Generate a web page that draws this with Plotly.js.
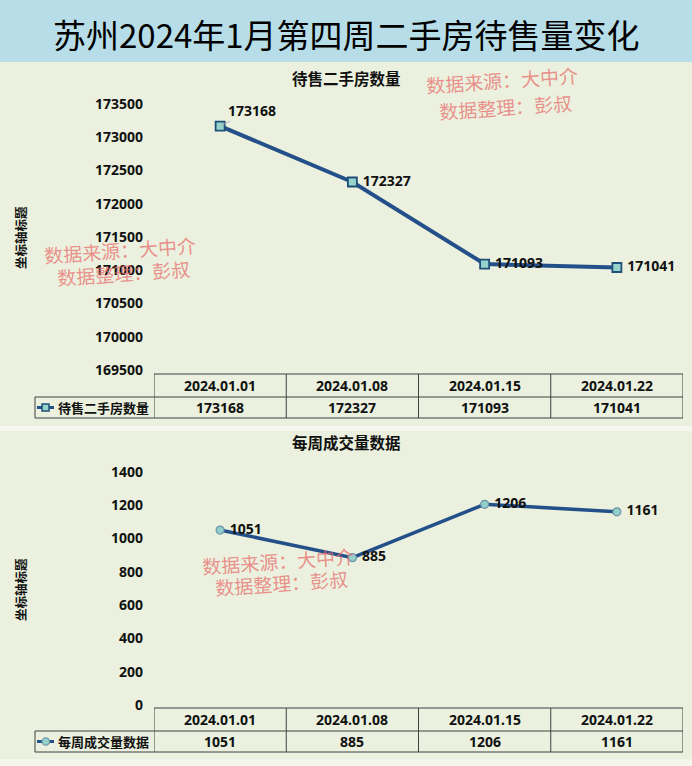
<!DOCTYPE html>
<html>
<head>
<meta charset="utf-8">
<script src="https://cdn.plot.ly/plotly-3.0.1.min.js"></script>
<style>
html,body{margin:0;padding:0;background:#EBF1DE;}
#chart{width:692px;height:766px;}
</style>
</head>
<body>
<div id="chart"></div>
<script>
// ---- data ----
const dates = ['2024.01.01', '2024.01.08', '2024.01.15', '2024.01.22'];
const listings = [173168, 172327, 171093, 171041];
const deals = [1051, 885, 1206, 1161];
const listingsName = '待售二手房数量';
const dealsName = '每周成交量数据';
const mainTitle = '苏州2024年1月第四周二手房待售量变化';
const axisTitle = '坐标轴标题';
const wmLine1 = '数据来源：大中介';
const wmLine2 = '数据整理：彭叔';

// ---- helpers (pixel -> paper) ----
const W = 692, H = 766;
const px = x => x / W;
const py = y => 1 - y / H;
const pad = '\u00a0';

const lineColor = '#24508A';
const tableLine = '#404040';
const numFont = {family: 'Noto Sans, Noto Sans CJK SC, sans-serif', size: 14, color: '#111', weight: 'bold'};
const cjkBold = (s) => ({family: 'Noto Sans CJK SC, sans-serif', size: s, color: '#111', weight: 'bold'});
const wmFont = {family: 'Noto Sans CJK SC, serif', size: 19, color: 'rgba(232,105,105,0.72)'};

const traces = [
  {
    x: dates, y: listings, xaxis: 'x', yaxis: 'y',
    type: 'scatter', mode: 'lines+markers+text',
    line: {color: lineColor, width: 4},
    marker: {symbol: 'square', size: 9, color: '#95D3CC', line: {color: '#1F4E79', width: 1.8}},
    text: listings.map((v, i) => i === 0 ? '' : pad + String(v)),
    textposition: 'middle right',
    textfont: numFont,
    cliponaxis: false, hoverinfo: 'skip'
  },
  {
    x: dates, y: deals, xaxis: 'x2', yaxis: 'y2',
    type: 'scatter', mode: 'lines+markers+text',
    line: {color: lineColor, width: 3.5},
    marker: {symbol: 'circle', size: 8, color: '#93CFCB', line: {color: '#6A95A6', width: 1.2}},
    text: deals.map(v => pad + String(v)),
    textposition: 'middle right',
    textfont: numFont,
    cliponaxis: false, hoverinfo: 'skip'
  }
];

const shapes = [];
const annotations = [];

// background bands
shapes.push({type: 'rect', xref: 'paper', yref: 'paper', x0: 0, x1: 1, y0: py(62), y1: 1,
  fillcolor: '#B7DEE8', line: {width: 0}, layer: 'below'});
shapes.push({type: 'rect', xref: 'paper', yref: 'paper', x0: 0, x1: 1, y0: py(431), y1: py(426),
  fillcolor: '#F6F8F0', line: {width: 0}, layer: 'below'});
shapes.push({type: 'rect', xref: 'paper', yref: 'paper', x0: 0, x1: 1, y0: 0, y1: py(759),
  fillcolor: '#F4F6EE', line: {width: 0}, layer: 'below'});

// titles
annotations.push({xref: 'paper', yref: 'paper', x: 0.5, y: py(34), text: mainTitle, showarrow: false,
  xanchor: 'center', yanchor: 'middle', font: {family: 'Noto Sans CJK SC, serif', size: 33, color: '#000'}});
annotations.push({xref: 'paper', yref: 'paper', x: px(346), y: py(78), text: listingsName, showarrow: false,
  xanchor: 'center', yanchor: 'middle', font: cjkBold(15.5)});
annotations.push({xref: 'paper', yref: 'paper', x: px(346), y: py(442), text: dealsName, showarrow: false,
  xanchor: 'center', yanchor: 'middle', font: cjkBold(15.5)});
// axis titles
[[238], [590]].forEach(([yy]) => {
  annotations.push({xref: 'paper', yref: 'paper', x: px(20), y: py(yy), text: axisTitle, showarrow: false,
    textangle: -90, xanchor: 'center', yanchor: 'middle', font: cjkBold(12.5)});
});

// first label with leader line
annotations.push({xref: 'x', yref: 'y', x: dates[0], y: listings[0], text: String(listings[0]),
  showarrow: true, arrowhead: 0, arrowwidth: 0.8, arrowcolor: '#A8A8A8', ax: 32, ay: -16,
  font: numFont});

// watermarks
const wm = [[502, 80, 106], [120, 250, 272], [278, 560, 582]];
wm.forEach(([cx, y1, y2]) => {
  annotations.push({xref: 'paper', yref: 'paper', x: px(cx), y: py(y1), text: wmLine1, showarrow: false,
    textangle: -4, xanchor: 'center', yanchor: 'middle', font: wmFont});
  annotations.push({xref: 'paper', yref: 'paper', x: px(cx + 3), y: py(y2), text: wmLine2, showarrow: false,
    textangle: -4, xanchor: 'center', yanchor: 'middle', font: wmFont});
});

// data tables
function table(xr, top, mid, bot, values, name, symbol) {
  const ln = {color: tableLine, width: 1};
  shapes.push({type: 'line', xref: xr, yref: 'paper', x0: -0.5, x1: 3.5, y0: py(top), y1: py(top), line: ln});
  shapes.push({type: 'line', xref: 'paper', yref: 'paper', x0: px(35), x1: px(683), y0: py(mid), y1: py(mid), line: ln});
  shapes.push({type: 'line', xref: 'paper', yref: 'paper', x0: px(35), x1: px(683), y0: py(bot), y1: py(bot), line: ln});
  shapes.push({type: 'line', xref: 'paper', yref: 'paper', x0: px(35), x1: px(35), y0: py(mid), y1: py(bot), line: ln});
  for (let i = 0; i <= dates.length; i++) {
    shapes.push({type: 'line', xref: xr, yref: 'paper', x0: i - 0.5, x1: i - 0.5, y0: py(top), y1: py(bot), line: ln});
  }
  dates.forEach((d, i) => {
    annotations.push({xref: xr, yref: 'paper', x: d, y: py((top + mid) / 2), text: d, showarrow: false,
      xanchor: 'center', yanchor: 'middle', font: numFont});
    annotations.push({xref: xr, yref: 'paper', x: d, y: py((mid + bot) / 2), text: String(values[i]), showarrow: false,
      xanchor: 'center', yanchor: 'middle', font: numFont});
  });
  const cy = (mid + bot) / 2;
  annotations.push({xref: 'paper', yref: 'paper', x: px(56), y: py(cy), text: name, showarrow: false,
    xanchor: 'left', yanchor: 'middle', font: cjkBold(13)});
  shapes.push({type: 'line', xref: 'paper', yref: 'paper', x0: px(37), x1: px(54), y0: py(cy), y1: py(cy),
    line: {color: lineColor, width: 3}});
  if (symbol === 'square') {
    shapes.push({type: 'rect', xref: 'paper', yref: 'paper', x0: px(42), x1: px(49), y0: py(cy + 3.5), y1: py(cy - 3.5),
      fillcolor: '#95D3CC', line: {color: '#1F4E79', width: 1.5}});
  } else {
    shapes.push({type: 'circle', xref: 'paper', yref: 'paper', x0: px(42), x1: px(49.5), y0: py(cy + 3.75), y1: py(cy - 3.75),
      fillcolor: '#93CFCB', line: {color: '#6A95A6', width: 1.2}});
  }
}
table('x', 374, 397, 418, listings, listingsName, 'square');
table('x2', 708, 731, 752, deals, dealsName, 'circle');

const xCommon = {
  domain: [px(154), px(683)], type: 'category', range: [-0.5, 3.5],
  showticklabels: false, showgrid: false, zeroline: false, showline: false, ticks: ''
};
const yCommon = {
  showgrid: false, zeroline: false, showline: false, ticks: '',
  tickfont: numFont, ticklabelstandoff: 10, tickformat: 'd'
};

const layout = {
  width: W, height: H,
  margin: {l: 0, r: 0, t: 0, b: 0},
  paper_bgcolor: '#EBF1DE', plot_bgcolor: 'rgba(0,0,0,0)',
  showlegend: false,
  xaxis: Object.assign({}, xCommon, {anchor: 'y'}),
  xaxis2: Object.assign({}, xCommon, {anchor: 'y2'}),
  yaxis: Object.assign({}, yCommon, {anchor: 'x', domain: [py(370), py(104)], range: [169500, 173500], dtick: 500, tick0: 169500}),
  yaxis2: Object.assign({}, yCommon, {anchor: 'x2', domain: [py(705), py(472)], range: [0, 1400], dtick: 200, tick0: 0}),
  shapes: shapes,
  annotations: annotations
};

Plotly.newPlot('chart', traces, layout, {displayModeBar: false, staticPlot: true});
</script>
</body>
</html>
